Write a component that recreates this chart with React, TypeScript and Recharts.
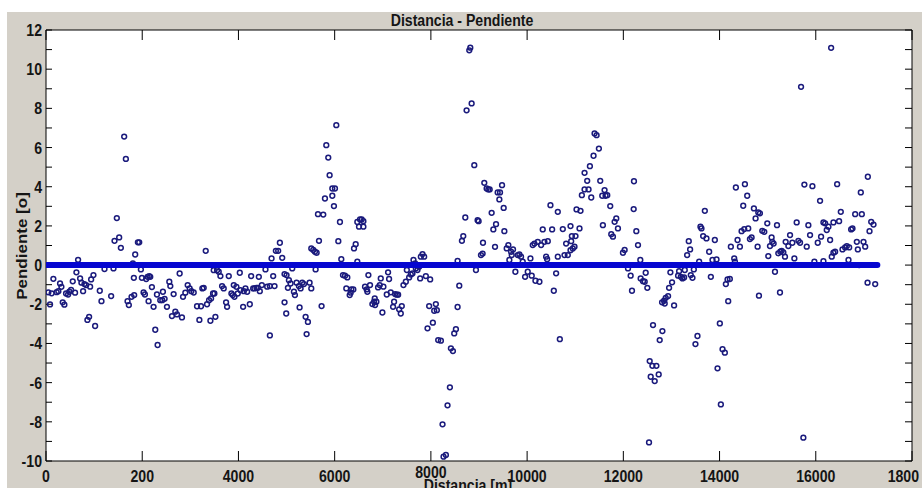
import React from 'react';
import {
  ScatterChart,
  Scatter,
  XAxis,
  YAxis,
  CartesianGrid,
} from 'recharts';

// distance along the route [m] and slope [o]
const distancia: number[] = [
  49, 118, 84, 153, 222, 257, 292, 320, 348, 382, 417, 459, 486, 521, 556, 604, 632, 667, 709, 736,
  771, 799, 834, 861, 896, 917, 938, 986, 1021, 1118, 1153, 1216, 1354, 1424, 1472, 1521, 1556, 1403, 1625, 1660,
  1806, 1695, 1722, 1778, 1833, 1854, 1826, 1910, 1938, 1972, 1993, 2083, 2111, 2146, 2167, 2028, 2056, 2132, 2201, 2236,
  2271, 2320, 2306, 2375, 2417, 2465, 2430, 2514, 2563, 2584, 2618, 2688, 2722, 2826, 2653, 2778, 2848, 2896, 2945, 2986,
  3021, 3070, 3139, 3222, 3188, 3250, 3278, 3320, 3347, 3389, 3431, 3472, 3500, 3417, 3521, 3486, 3556, 3590, 3625, 3660,
  3694, 3743, 3764, 3799, 3854, 3882, 3917, 3903, 3958, 3986, 4028, 4042, 4111, 4146, 4181, 4097, 4236, 4264, 4424, 4306,
  4333, 4375, 4403, 4444, 4486, 4562, 4597, 4653, 4653, 4688, 4778, 4826, 4861, 4910, 4722, 4750, 4958, 5000, 5049, 5083,
  4958, 4993, 5028, 5118, 5153, 5174, 5208, 5257, 5292, 5271, 5326, 5361, 5396, 5444, 5479, 5514, 5514, 5555, 5590, 5625,
  5604, 5653, 5674, 5417,
  6034, 5826, 5867, 5895, 5798, 5951, 6006, 5951, 5985, 5763, 6110, 5728, 6076, 6138, 6173, 6215, 6263, 6242, 6346, 6333,
  6312, 6388, 6471, 6527, 6562, 6597, 6506, 6597, 6402, 6437, 6471, 6701, 6631, 6666, 6680, 6735, 6784, 6819, 6833, 6867,
  6840, 6902, 6937, 6958, 7013, 6992, 7083, 7131, 7110, 7166, 7214, 7256, 7291, 7319, 7235, 7340, 7374, 7395, 7430, 7479,
  7500, 7548, 7583, 7617, 7638, 7673, 7687, 7721, 7756, 7791, 7826, 7860, 7777, 7895, 7985, 7964, 8069, 8103, 8124, 8041,
  7930, 8520, 8485, 8152, 8208, 8416, 8458, 8395, 8346, 8242, 8263, 8312, 10680, 8555, 8590, 8555, 8645, 8673, 8715, 8902,
  8937, 8971, 8992, 9041, 9075, 9083, 9110, 9159, 9194, 9222, 9263, 9298, 9354, 9333, 9388, 9437, 9423, 9479, 9513, 9527,
  9576, 9610, 9666, 9707, 9631, 9680, 9756, 9805, 9839, 9874, 9909, 9958, 10013, 10069, 10117, 10152, 10221, 10291, 10360, 10430,
  10096, 10173, 10256, 10325, 10520, 10395, 10416, 10485, 10638, 10555, 10603, 10638, 10742, 10902, 10777, 10846, 10902, 10950, 10985, 10811,
  10916, 10930, 11006, 11089, 11027, 11110, 11138, 11194, 11249, 11194, 11305, 11277, 11333, 11402, 11444, 11492, 11381, 11520, 11562, 11610,
  11631, 11666, 11728, 11575, 8798, 8819, 8742, 8847,
  11819, 11853, 11888, 11784, 11749, 11992, 12027, 12097, 12152, 12180, 12221, 12215, 12270, 12305, 12353, 12360, 12409, 12444, 12499, 12465,
  12617, 12805, 12847, 12881, 12930, 12860, 12951, 13013, 13055, 12978, 13138, 13159, 13194, 13229, 13263, 13277, 13326, 13360, 13388, 13402,
  13437, 13465, 13576, 13603, 13624, 13659, 13728, 13694, 13784, 13819, 13853, 13937, 13902, 14006, 14131, 14166, 14214, 14180, 14235, 14305,
  14319, 14339, 14527, 14374, 14423, 14458, 14492, 14575, 14513, 14596, 14631, 14666, 14714, 14749, 14805, 14839, 14791, 14819, 14888, 14930,
  14992, 15013, 15048, 15096, 15124, 15082, 15152, 15194, 15221, 15263, 15291, 15326, 15360, 15256, 15374, 15430, 15465, 15513, 15555, 15603,
  15638, 15673, 15763, 15930, 15812, 15846, 15881, 15971, 16041, 16089, 16110, 16159, 16194, 16228, 16263, 16298, 16159, 16332, 16367, 16402,
  16367, 16444, 16485, 16520, 16555, 16610, 16645, 16694, 16735, 16763, 16680, 16819, 16957, 16853, 16874, 16992, 17027, 16936, 16902, 17082,
  17117, 17152, 17200, 17076, 17235, 15694, 16319,
  12812, 12756, 12548, 12604, 12687, 12569, 12652, 12735, 12534, 13499, 13541, 14062, 14110, 13958, 14027, 15742,
];

const pendiente: number[] = [
  -1.39, -1.44, -2.01, -0.7, -1.38, -1.33, -0.94, -1.11, -1.9, -2.02, -1.45, -1.5, -1.36, -1.26, -0.83, -1.41, -0.37, 0.27, -0.68, -0.9,
  -1.33, -0.97, -1.02, -2.8, -2.64, -1.1, -0.73, -0.51, -3.11, -1.31, -1.84, -0.2, -1.58, 1.24, 2.4, 1.41, 0.88, -0.17, 6.56, 5.42,
  0.08, -1.84, -2.04, -1.62, -1.53, 0.54, -0.65, 1.16, 1.16, -0.22, -0.65, -0.71, -0.6, -0.56, -0.6, -1.4, -1.5, -1.84, -1.12, -2.13,
  -3.3, -4.08, -1.5, -1.79, -1.79, -1.72, -1.36, -2.13, -0.85, -1.07, -2.6, -2.38, -2.52, -2.67, -1.48, -0.43, -1.62, -1.41, -1.02, -1.19,
  -1.33, -1.4, -2.1, -2.1, -2.8, -1.19, -1.16, 0.73, -2.0, -1.79, -1.7, -1.45, -1.45, -2.84, -2.64, -0.26, -0.26, -0.34, -0.56, -1.07,
  -1.19, -1.9, -2.13, -0.56, -1.45, -1.53, -1.62, -1.02, -1.11, -1.45, -0.39, -1.28, -1.33, -1.19, -1.36, -2.13, -2.0, -0.56, -0.6, -1.19,
  -1.19, -1.16, -1.16, -1.33, -1.02, -0.22, -1.1, -1.07, -3.59, 0.34, 0.73, 0.73, 1.14, 0.37, -0.56, -1.07, -0.46, -0.51, -0.77, -0.94,
  -1.9, -2.47, -1.16, -0.17, -1.36, -1.53, -0.9, -1.07, -1.19, -2.16, -0.9, -0.97, -2.64, -2.9, -0.9, -1.19, 0.85, 0.77, 0.68, 0.63,
  -0.22, 2.6, 1.24, -3.52,
  7.14, 6.12, 5.49, 4.59, 3.4, 3.91, 3.91, 3.54, 3.01, 2.58, 2.2, -2.09, 1.22, 0.3, -0.51, -0.54, -0.63, -1.19, -1.24, -1.41,
  -1.53, -1.24, 2.2, 2.33, 2.33, 2.24, 1.96, 1.96, 0.85, 1.07, 0.17, -0.51, -1.1, -1.24, -1.36, -1.02, -1.99, -1.87, -1.7, -1.87,
  -2.04, -1.14, -1.02, -0.68, -1.1, -2.42, -1.5, -0.71, -0.37, -1.39, -2.13, -1.48, -1.51, -1.51, -1.87, -2.26, -2.47, -2.09, -1.02, -0.85,
  -0.25, -0.63, -0.48, -0.43, 0.26, 0.09, -0.17, -0.25, -0.08, 0.43, 0.56, 0.43, -0.68, -0.56, -0.73, -2.09, -2.33, -1.99, -2.3, -2.94,
  -3.23, -3.27, -3.49, -3.83, -3.86, -4.25, -4.39, -6.24, -7.16, -8.13, -9.78, -9.69, -3.78, 0.22, -1.05, -2.14, 1.24, 1.48, 2.43, 5.1,
  -0.25, 2.29, 2.24, 0.51, 0.59, 1.14, 4.2, 3.91, 3.86, 3.86, 2.67, 1.82, 2.09, 0.93, 3.71, 3.71, 3.35, 4.08, 2.92, 1.73,
  0.85, 1.02, 0.68, 0.8, 0.26, 0.51, -0.34, 0.51, 0.54, 0.43, 0.17, -0.6, -0.34, 0.34, 1.02, 1.1, 1.19, 1.02, 1.19, 1.22,
  -0.54, -0.8, -0.85, 1.82, 1.82, 0.43, 0.3, 3.06, 2.72, -1.31, -0.42, 0.43, 1.84, 1.99, 0.51, 0.51, 0.76, 0.85, 0.94, 1.1,
  1.22, 1.48, 1.48, 1.87, 2.84, 2.77, 3.57, 3.86, 4.3, 4.71, 5.05, 3.86, 3.45, 6.72, 6.63, 5.95, 5.58, 4.3, 3.54, 3.83,
  3.54, 3.57, 3.01, 2.04, 10.96, 11.1, 7.9, 8.25,
  2.21, 2.38, 1.87, 1.45, 1.58, 0.63, 0.77, -0.17, -0.54, -1.31, 4.28, 2.86, 1.73, 1.02, 0.26, -0.68, -0.82, -0.85, -1.16, -0.39,
  -3.06, -1.9, -1.82, -1.67, -1.58, -1.96, -1.16, -0.88, -2.06, -0.37, -0.54, -0.31, -0.6, -0.68, -0.63, -0.25, 0.51, 1.22, 0.8, -0.51,
  -0.65, -0.22, 0.17, 1.96, 1.87, 1.48, 1.36, 2.77, 0.68, -0.6, 0.26, 0.29, 1.28, -2.98, -0.97, -0.73, -0.71, -1.84, 0.94, 0.34,
  0.17, 3.96, 4.13, 1.28, 0.94, 1.73, 3.03, 3.54, 1.84, 1.87, 1.33, 1.41, 2.89, 2.38, 2.69, 2.64, 0.94, -1.56, 1.75, 1.7,
  2.13, 0.46, 0.97, 1.19, 1.1, 1.41, -0.34, 2.04, 0.6, 0.68, 0.73, 0.65, 0.43, -1.4, 1.19, 0.97, 1.53, 1.14, 0.34, 2.18,
  1.24, 1.14, 4.11, 4.03, 0.94, 2.04, 1.53, 0.17, 1.14, 3.28, 1.45, 2.18, 2.13, 1.79, 1.96, 1.28, 0.2, 0.43, 0.63, 0.68,
  2.18, 4.13, 2.24, 2.72, 0.8, 0.9, 0.97, 0.9, 1.82, 1.87, 0.26, 2.6, 2.6, 1.19, 0.8, 1.19, 0.94, 3.71, 0.0, 4.51,
  1.73, 2.21, 2.07, -0.9, -0.97, 9.1, 11.09,
  -3.37, -3.83, -4.9, -5.14, -5.14, -5.7, -5.92, -5.58, -9.05, -4.03, -3.62, -4.29, -4.47, -5.27, -7.11, -8.81,
];

// the zero reference drawn as a thick line
const lineaCeroX = [0, 17280];
const lineaCeroY = [0, 0];

const xTicks = [0, 2000, 4000, 6000, 8000, 10000, 12000, 14000, 16000, 18000];
const xTickLabels = ['0', '200', '4000', '6000', '8000', '10000', '12000', '14000', '16000', '1800'];
const yTicks = [-10, -9, -8, -7, -6, -5, -4, -3, -2, -1, 0, 1, 2, 3, 4, 5, 6, 7, 8, 9, 10, 11, 12];

const puntos = distancia.map((d, i) => ({ x: d, y: pendiente[i] }));
const linea = lineaCeroX.map((d, i) => ({ x: d, y: lineaCeroY[i] }));

const FONT = '"Liberation Sans", Arial, sans-serif';

const SqText = ({ x, y, anchor = 'middle', children }: any) => (
  <text
    transform={`translate(${x},${y}) scale(0.83,1)`}
    textAnchor={anchor}
    fontSize={17}
    fontWeight="bold"
    fontFamily={FONT}
    fill="#151515"
  >
    {children}
  </text>
);

const BottomTick = ({ x, y, payload }: any) => {
  const idx = xTicks.indexOf(payload.value);
  const label = idx >= 0 ? xTickLabels[idx] : payload.value;
  // last label sits inside the frame, like the original
  if (idx === xTicks.length - 1) {
    return (
      <SqText x={x + 7} y={y + 21} anchor="end">
        {label}
      </SqText>
    );
  }
  // the 8000 label is drawn a little higher in the original
  const lift = payload.value === 8000 ? 4 : 0;
  return (
    <SqText x={x} y={y + 21 - lift}>
      {label}
    </SqText>
  );
};

const LeftTick = ({ x, y, payload }: any) =>
  payload.value % 2 === 0 ? (
    <SqText x={x - 4} y={y + 6} anchor="end">
      {payload.value}
    </SqText>
  ) : (
    <g />
  );

const NoTick = () => <g />;

const Circulo = (props: any) => (
  <circle cx={props.cx} cy={props.cy} r={2.4} fill="none" stroke="#1a1a7c" strokeWidth={1.5} />
);

const App: React.FC = () => {
  return (
    <div style={{ position: 'absolute', left: 0, top: 0, width: 922, height: 488, background: '#fff' }}>
      <div style={{ position: 'absolute', left: 7, top: 12, width: 915, height: 476, background: '#d4d0c8' }} />
      <div style={{ position: 'absolute', left: 0, top: 0 }}>
        <ScatterChart width={922} height={488} margin={{ top: 29, right: 0, bottom: 0, left: 6 }}>
          <CartesianGrid fill="#fff" horizontal={false} vertical={false} />
          <XAxis
            type="number"
            dataKey="x"
            domain={[0, 18000]}
            ticks={xTicks}
            interval={0}
            height={27}
            stroke="#000"
            tickSize={-10}
            tickMargin={10}
            tick={BottomTick}
            allowDataOverflow
          />
          <XAxis
            xAxisId="top"
            orientation="top"
            type="number"
            dataKey="x"
            domain={[0, 18000]}
            ticks={xTicks}
            interval={0}
            height={1}
            stroke="#000"
            tickSize={-10}
            tick={NoTick}
            allowDataOverflow
          />
          <YAxis
            type="number"
            dataKey="y"
            domain={[-10, 12]}
            ticks={yTicks}
            interval={0}
            width={40}
            stroke="#000"
            tickSize={-6}
            tickMargin={6}
            tick={LeftTick}
            allowDataOverflow
          />
          <YAxis
            yAxisId="right"
            orientation="right"
            type="number"
            dataKey="y"
            domain={[-10, 12]}
            ticks={yTicks}
            interval={0}
            width={10}
            stroke="#000"
            tickSize={-7}
            tick={NoTick}
            allowDataOverflow
          />
          <Scatter data={puntos} shape={Circulo} isAnimationActive={false} />
          <Scatter
            data={linea}
            line={{ stroke: '#0606d0', strokeWidth: 6, strokeLinecap: 'round' }}
            shape={NoTick}
            isAnimationActive={false}
          />
          <text
            transform="translate(462,26) scale(0.83,1)"
            textAnchor="middle"
            fontSize={17}
            fontWeight="bold"
            fontFamily={FONT}
            fill="#151515"
          >
            Distancia - Pendiente
          </text>
          <text
            transform="translate(27,246) scale(0.83,1) rotate(-90)"
            textAnchor="middle"
            fontSize={17}
            fontWeight="bold"
            fontFamily={FONT}
            fill="#151515"
          >
            Pendiente [o]
          </text>
          <text
            transform="translate(468,491) scale(0.83,1)"
            textAnchor="middle"
            fontSize={17}
            fontWeight="bold"
            fontFamily={FONT}
            fill="#151515"
          >
            Distancia [m]
          </text>
        </ScatterChart>
      </div>
    </div>
  );
};

export default App;
